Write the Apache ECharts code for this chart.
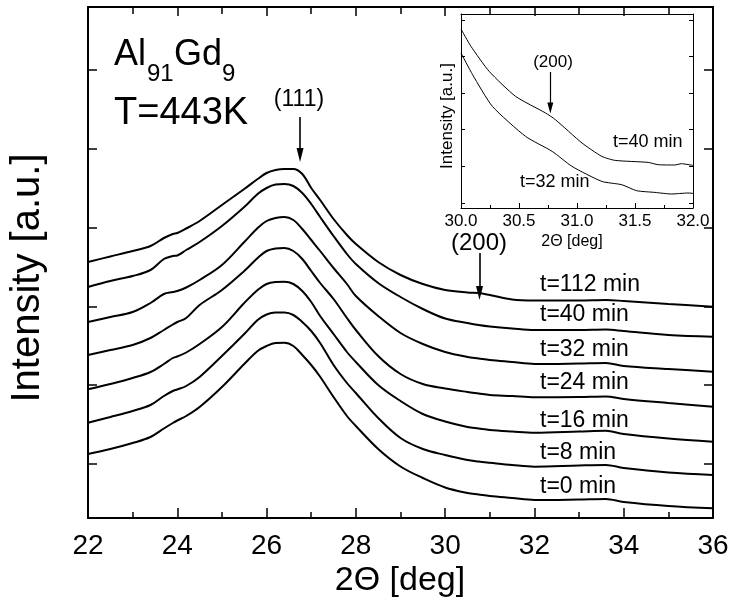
<!DOCTYPE html>
<html><head><meta charset="utf-8">
<script src="https://cdn.jsdelivr.net/npm/echarts@6/dist/echarts.min.js"></script>
<style>html,body{margin:0;padding:0;background:#fff}#c{width:733px;height:602px}</style>
</head><body><div id="c"></div>
<script>
// ---- main panel data: 2Theta [deg] and intensity [a.u.] ----
const twoTheta = [22.0,22.5,23.0,23.4,23.7,23.9,24.0,24.2,24.5,25.0,25.5,25.8,26.0,26.2,26.4,26.6,26.8,27.0,27.2,27.5,27.8,28.0,28.5,29.0,29.5,30.0,30.5,30.75,31.0,31.5,32.0,33.0,33.6,34.0,35.0,36.0];
const t112 = [256,261.5,267,272,280,284,285,289.5,297,313,329,339,345,348,349,349,344,330,318,299,283,274,256,243,234,228,225.5,225,223,218.5,217.5,217.5,218,217,214,211.3];
const t40  = [231,237,242,248,259,262,262.5,268,276,292,311,324,330,333.5,334,332,325,314,301,282,264,254,235,221,209,199.5,195,193,191.5,189.5,188,188,188.5,187,183,181.3];
const t32  = [196,201,206,215,224,226,227,230.5,238,253,276,290,297,300,301,298,289,278,267,250,234,222,202,185,174,166,161,159.5,158,156,154,154.5,155,152,149,146.3];
const t24  = [163,168,173,180,188,193.5,196,200,213,228,247,260,267,269.5,270,267,259,247,235,219,200,188,162,144,134,129.5,126,124.5,123,122,120.7,121,121.5,119,115,111.3];
const t16  = [128.7,134,140,146,154,160,161.5,165.5,174,191,215,228,234,236,236.3,234,227,216,202,184,166,156,133,117,104,96.5,91,89.5,88,86.5,85.3,86.5,87.3,84,79.5,76.3];
const t8   = [95.3,101,107,113,122,127,128.5,132,141,162,184,198,203.5,205.5,205.5,203,196,187,175,153,135,125,100,80,69,63,58,56.5,55.3,53,51.3,52.5,53,50,45.5,43];
const t0   = [64,69,75,81,89.5,95,97.5,102,111,131,154,167,172,175,175.3,172,163,153,141.3,121,102,92,69,51.5,40,30.5,25,23.5,22,20,18,18.5,19,16,12,9.7];
const mainSeries = [t112, t40, t32, t24, t16, t8, t0];
const mainNames = ['t=112 min','t=40 min','t=32 min','t=24 min','t=16 min','t=8 min','t=0 min'];
const mainYTicks = [54,133,211,290,369,448];
const xTickMin = 22, xTickMax = 36, xTickStep = 2;

// ---- inset data ----
const insetX40 = [30.0,30.086,30.243,30.471,30.729,30.814,31.043,31.214,31.329,31.614,31.7,31.843,31.9,32.0];
const insetY40 = [179,161.6,136.6,111.6,95,88.3,65,51.6,47.6,45.6,43.3,43,44.3,42.6];
const insetX32 = [30.0,30.1,30.271,30.557,30.786,30.957,31.214,31.386,31.514,31.671,31.814,31.957,32.0];
const insetY32 = [155,133.3,101.6,71.6,56.6,41.6,26.6,23.3,17.3,15.6,14,15,14.6];
const insetYTicks = [5,42,78.5,115,151.5,188];

const FF = '"Liberation Sans", Arial, Helvetica, sans-serif';
const chart = echarts.init(document.getElementById('c'), null, {renderer:'canvas'});

const blackLine = w => ({show:true, onZero:false, lineStyle:{color:'#000', width:w}});

const series = mainSeries.map((arr, k) => ({
  name: mainNames[k], type:'line', xAxisIndex:0, yAxisIndex:0,
  data: twoTheta.map((x,i)=>[x, arr[i]]),
  showSymbol:false, smooth:0.35, lineStyle:{color:'#000', width:2}, silent:true, animation:false
}));
series[0].markLine = {
  silent:true, animation:false, symbol:['none','triangle'],
  lineStyle:{color:'#000', width:1.6, type:'solid'}, label:{show:false},
  data:[
    [{coord:[26.75, 401], symbol:'none'}, {coord:[26.75, 363], symbol:'triangle', symbolSize:[7,14]}],
    [{coord:[30.77, 265], symbol:'none'}, {coord:[30.77, 225], symbol:'triangle', symbolSize:[7,14]}]
  ]
};
series.push({
  name:'inset t=40', type:'line', xAxisIndex:2, yAxisIndex:2,
  data: insetX40.map((x,i)=>[x, insetY40[i]]), showSymbol:false, smooth:0.2,
  lineStyle:{color:'#000', width:1}, silent:true, animation:false,
  markLine:{silent:true, animation:false, symbol:['none','triangle'],
    lineStyle:{color:'#000', width:1.2, type:'solid'}, label:{show:false},
    data:[[{coord:[30.77, 136], symbol:'none'}, {coord:[30.77, 100], symbol:'triangle', symbolSize:[6,11]}]]}
});
series.push({
  name:'inset t=32', type:'line', xAxisIndex:2, yAxisIndex:2,
  data: insetX32.map((x,i)=>[x, insetY32[i]]), showSymbol:false, smooth:0.2,
  lineStyle:{color:'#000', width:1}, silent:true, animation:false
});

const txt = (text, x, y, size, align, extra) => Object.assign({
  type:'text', x:x, y:y, silent:true,
  style:{text:text, fill:'#000', fontSize:size, fontFamily:FF, align:align||'left', verticalAlign:'middle'}
}, extra||{});

const labelY = [285, 315, 350, 383, 420.5, 452.7, 486.5];
const graphics = [
  txt('Al', 114, 55, 36), txt('91', 147, 74, 24), txt('Gd', 174, 55, 36), txt('9', 222, 74, 24),
  txt('T=443K', 114, 114, 38),
  txt('(111)', 299, 100, 23, 'center'),
  txt('(200)', 479, 243, 24, 'center'),
  txt('2Θ [deg]', 400, 581, 34, 'center'),
  txt('Intensity [a.u.]', 28, 278, 40, 'center', {rotation: Math.PI/2}),
  txt('(200)', 553, 62, 17, 'center'),
  txt('t=40 min', 613, 142, 18),
  txt('t=32 min', 520, 182, 18),
  txt('2Θ [deg]', 572, 242, 16, 'center'),
  txt('Intensity [a.u.]', 447, 116, 17, 'center', {rotation: Math.PI/2})
].concat(mainNames.map((n,k)=>txt(n, 540, labelY[k], 23)));

chart.setOption({
  animation:false, backgroundColor:'#fff',
  grid:[
    {left:88, right:20, top:7, bottom:84},
    {left:461, right:40, top:14, bottom:394}
  ],
  xAxis:[
    {type:'value', gridIndex:0, min:xTickMin, max:xTickMax, interval:xTickStep, position:'bottom',
     axisLine:blackLine(2), axisTick:{inside:true, length:10, lineStyle:{color:'#000', width:1.5}},
     minorTick:{show:true, splitNumber:2, length:6, lineStyle:{color:'#000', width:1.5}},
     axisLabel:{color:'#000', fontSize:28, fontFamily:FF, margin:14}, splitLine:{show:false}},
    {type:'value', gridIndex:0, min:xTickMin, max:xTickMax, interval:xTickStep, position:'top',
     axisLine:blackLine(2), axisTick:{inside:true, length:9, lineStyle:{color:'#000', width:1.5}},
     minorTick:{show:true, splitNumber:2, length:7, lineStyle:{color:'#000', width:1.5}},
     axisLabel:{show:false}, splitLine:{show:false}},
    {type:'value', gridIndex:1, min:30, max:32, interval:0.5, position:'bottom',
     axisLine:blackLine(1), axisTick:{inside:true, length:5, lineStyle:{color:'#000'}},
     minorTick:{show:true, splitNumber:2, length:3, lineStyle:{color:'#000'}},
     axisLabel:{color:'#000', fontSize:17, fontFamily:FF, margin:5, formatter:v=>v.toFixed(1)}, splitLine:{show:false}},
    {type:'value', gridIndex:1, min:30, max:32, interval:0.5, position:'top',
     axisLine:blackLine(1), axisTick:{show:false}, axisLabel:{show:false}, splitLine:{show:false}}
  ],
  yAxis:[
    {type:'value', gridIndex:0, min:0, max:511, position:'left',
     axisLine:blackLine(2), axisTick:{inside:true, length:9, customValues:mainYTicks, lineStyle:{color:'#000', width:1.5}},
     axisLabel:{show:false, customValues:mainYTicks}, splitLine:{show:false}},
    {type:'value', gridIndex:0, min:0, max:511, position:'right',
     axisLine:blackLine(2), axisTick:{inside:true, length:9, customValues:mainYTicks, lineStyle:{color:'#000', width:1.5}},
     axisLabel:{show:false, customValues:mainYTicks}, splitLine:{show:false}},
    {type:'value', gridIndex:1, min:0, max:194, position:'left',
     axisLine:blackLine(1), axisTick:{inside:true, length:4, customValues:insetYTicks, lineStyle:{color:'#000'}},
     axisLabel:{show:false, customValues:insetYTicks}, splitLine:{show:false}},
    {type:'value', gridIndex:1, min:0, max:194, position:'right',
     axisLine:blackLine(1), axisTick:{inside:true, length:4, customValues:insetYTicks, lineStyle:{color:'#000'}},
     axisLabel:{show:false, customValues:insetYTicks}, splitLine:{show:false}}
  ],
  series: series,
  graphic: graphics
});
</script></body></html>
